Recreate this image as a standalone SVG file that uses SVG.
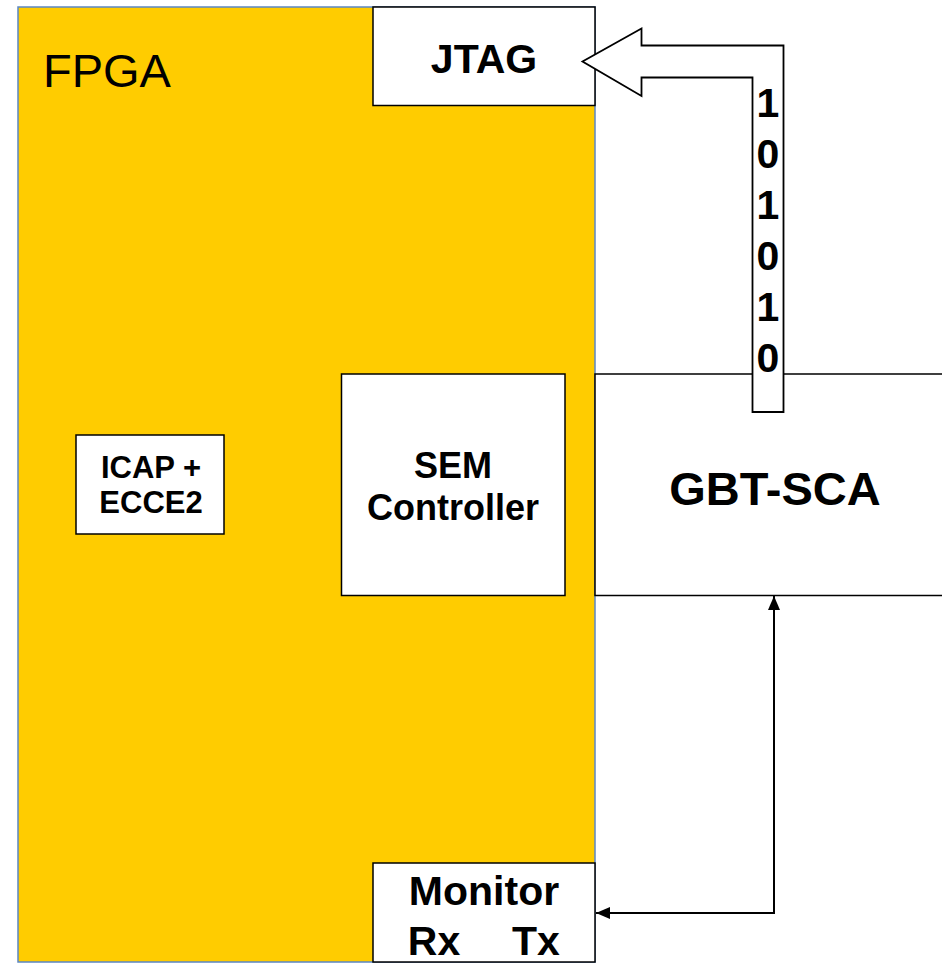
<svg xmlns="http://www.w3.org/2000/svg" width="942" height="963" viewBox="0 0 942 963">
<defs>
<style>
.box{fill:#fff;stroke:#000;stroke-width:1.5}
.b{font-family:"Liberation Sans",Arial,sans-serif;font-weight:bold;fill:#000;text-anchor:middle}
.wire{fill:none;stroke:#000;stroke-width:2}
</style>
<marker id="ah" viewBox="0 0 10 10" refX="10" refY="5" markerWidth="7" markerHeight="7" markerUnits="userSpaceOnUse" orient="auto-start-reverse">
<path d="M0,0 L10,5 L0,10 Z" fill="#000"/>
</marker>
<marker id="ah2" viewBox="0 0 14 12" refX="14" refY="6" markerWidth="14" markerHeight="12" markerUnits="userSpaceOnUse" orient="auto-start-reverse">
<path d="M0,0 L14,6 L0,12 Z" fill="#000"/>
</marker>
</defs>
<rect width="942" height="963" fill="#fff"/>
<g id="fpga">
<rect x="18" y="7" width="577" height="955" fill="#FFCC00" stroke="#5B87C4" stroke-width="1.5"/>
<text x="43" y="87" font-family="'Liberation Sans',Arial,sans-serif" font-size="47" fill="#000">FPGA</text>
</g>
<g id="gbt-sca">
<rect class="box" x="595" y="374" width="360" height="221.5"/>
<text class="b" x="775" y="505" font-size="47">GBT-SCA</text>
</g>
<g id="jtag">
<rect class="box" x="373" y="7" width="222" height="98.5"/>
<text class="b" x="484" y="73" font-size="41">JTAG</text>
</g>
<g id="sem">
<rect class="box" x="341.5" y="374" width="223.5" height="221.5"/>
<text class="b" x="453" y="478" font-size="36">SEM</text>
<text class="b" x="453" y="520" font-size="36">Controller</text>
</g>
<g id="icap">
<rect class="box" x="76" y="435" width="148" height="99"/>
<text class="b" x="151" y="478" font-size="31">ICAP +</text>
<text class="b" x="151" y="513" font-size="31">ECCE2</text>
</g>
<g id="monitor">
<rect class="box" x="373" y="863" width="222" height="99"/>
<text class="b" x="484" y="905" font-size="41">Monitor</text>
<text class="b" x="434" y="955" font-size="41">Rx</text>
<text class="b" x="536" y="955" font-size="41">Tx</text>
</g>
<g id="connectors">
<g id="data-arrow">
<path d="M783.5,412 L783.5,45.5 L641.5,45.5 L641.5,28.5 L582.5,61.5 L641.5,96 L641.5,77.5 L752.5,77.5 L752.5,412 Z" fill="#fff" stroke="#000" stroke-width="1.8" stroke-linejoin="miter"/>
<g class="b" font-size="41">
<text x="768" y="117">1</text>
<text x="768" y="168">0</text>
<text x="768" y="219">1</text>
<text x="768" y="270">0</text>
<text x="768" y="321">1</text>
<text x="768" y="372">0</text>
</g>
</g>
<path class="wire" d="M774,596 L774,913 L596,913" marker-start="url(#ah2)" marker-end="url(#ah2)"/>
</g>
</svg>
